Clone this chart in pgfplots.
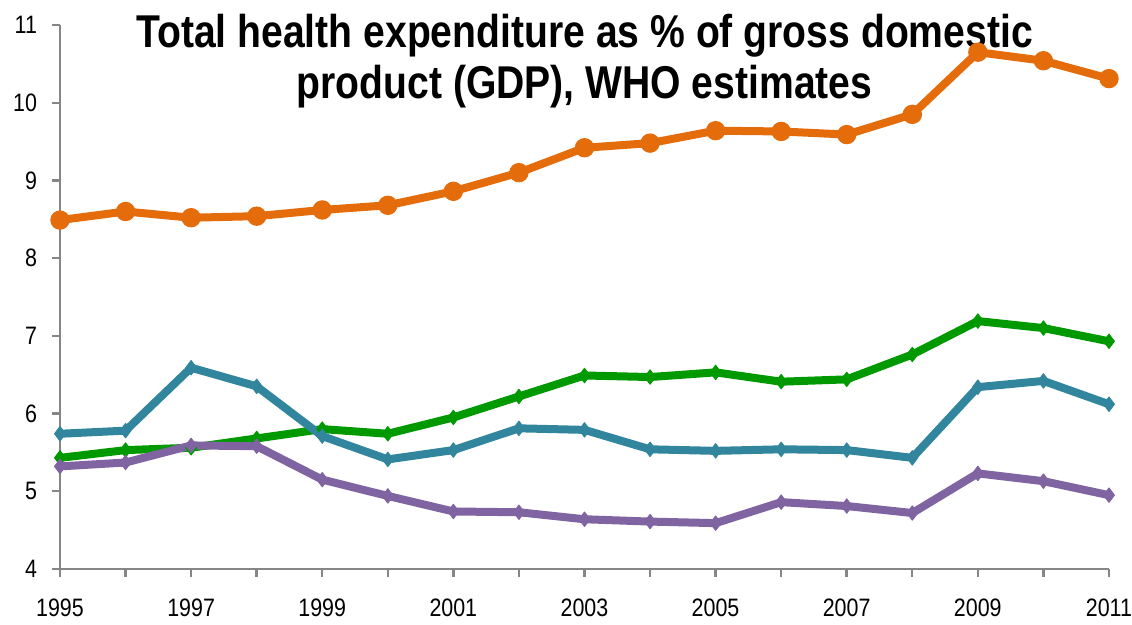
\documentclass[border=0pt]{standalone}
\usepackage{fontspec}
\setmainfont{Liberation Sans}[FakeStretch=0.85]
\usepackage{pgfplots}
\pgfplotsset{compat=1.18}
\definecolor{cOr}{HTML}{E46C0A}
\definecolor{cGr}{HTML}{009A00}
\definecolor{cTe}{HTML}{31859C}
\definecolor{cPu}{HTML}{8064A2}
\definecolor{axgray}{HTML}{868686}
\begin{document}
\begin{tikzpicture}
\begin{axis}[
  scale only axis, width=524.5pt, height=272pt,
  xmin=1995, xmax=2011, ymin=4, ymax=11,
  axis x line*=bottom, axis y line*=left,
  axis line style={draw=axgray, line width=1.2pt},
  xtick={1995,...,2011},
  xticklabels={1995,,1997,,1999,,2001,,2003,,2005,,2007,,2009,,2011},
  ytick={4,...,11},
  tick style={draw=axgray, line width=1.2pt},
  major tick length=4pt,
  tick align=outside,
  x tick label style={font=\fontsize{12.6}{15}\selectfont, yshift=-7.5pt},
  y tick label style={font=\fontsize{12.6}{15}\selectfont, xshift=-4pt},
  /pgf/number format/assume math mode=true,
  clip=false,
  every axis plot/.append style={line width=4pt, line join=round},
]
\addplot[cOr, mark=*, mark size=4.6pt, mark options={solid, line width=0.5pt}] coordinates {
(1995,8.49) (1996,8.60) (1997,8.52) (1998,8.54) (1999,8.62) (2000,8.68)
(2001,8.86) (2002,9.10) (2003,9.42) (2004,9.48) (2005,9.64) (2006,9.63)
(2007,9.59) (2008,9.85) (2009,10.65) (2010,10.54) (2011,10.31)};
\addplot[cGr, mark=diamond*, mark size=3.6pt, mark options={solid, line width=0.5pt}] coordinates {
(1995,5.43) (1996,5.53) (1997,5.56) (1998,5.68) (1999,5.80) (2000,5.74)
(2001,5.95) (2002,6.22) (2003,6.49) (2004,6.47) (2005,6.53) (2006,6.41)
(2007,6.44) (2008,6.76) (2009,7.19) (2010,7.10) (2011,6.93)};
\addplot[cTe, mark=diamond*, mark size=3.6pt, mark options={solid, line width=0.5pt}] coordinates {
(1995,5.74) (1996,5.78) (1997,6.59) (1998,6.35) (1999,5.71) (2000,5.41)
(2001,5.53) (2002,5.81) (2003,5.79) (2004,5.54) (2005,5.52) (2006,5.54)
(2007,5.53) (2008,5.43) (2009,6.34) (2010,6.42) (2011,6.12)};
\addplot[cPu, mark=diamond*, mark size=3.6pt, mark options={solid, line width=0.5pt}] coordinates {
(1995,5.32) (1996,5.37) (1997,5.59) (1998,5.58) (1999,5.15) (2000,4.94)
(2001,4.74) (2002,4.73) (2003,4.64) (2004,4.61) (2005,4.59) (2006,4.86)
(2007,4.81) (2008,4.72) (2009,5.23) (2010,5.13) (2011,4.95)};
\node[align=center, inner sep=0pt, anchor=north, yshift=5.5pt,
  font=\fontsize{23}{25.5}\selectfont\bfseries] at (rel axis cs:0.5,1)
  {Total health expenditure as \% of gross domestic\\product (GDP), WHO estimates};
\end{axis}
\pgfresetboundingbox
\path[use as bounding box] ([shift={(-30pt,-28pt)}]current axis.south west) rectangle ++(566pt,312.5pt);
\end{tikzpicture}
\end{document}
